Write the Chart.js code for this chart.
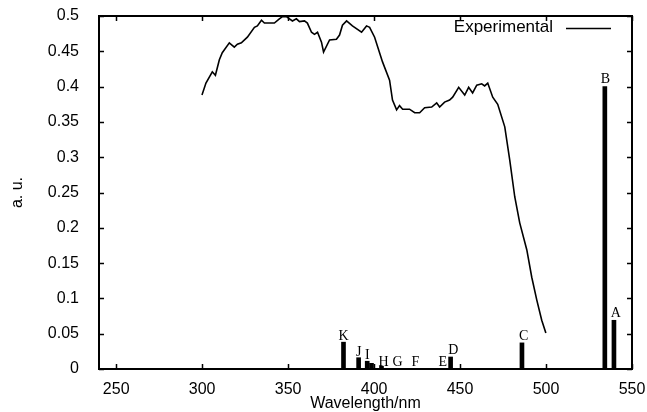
<!DOCTYPE html>
<html>
<head>
<meta charset="utf-8">
<script src="https://cdn.jsdelivr.net/npm/chart.js@4"></script>
<style>
  html, body { margin: 0; padding: 0; background: #fff; }
  #wrap { width: 647px; height: 412px; }
</style>
</head>
<body>
<div id="wrap"><canvas id="spectrum"></canvas></div>
<script>
// Experimental curve (wavelength nm, a.u.)
const expWavelength = [299.9, 302.2, 305.9, 307.7, 310.0, 311.7, 315.8, 318.7, 320.5, 322.8, 326.3, 330.4, 332.1, 334.5, 336.2, 339.1, 342.0, 344.9, 346.7, 349.0, 350.8, 352.5, 354.8, 356.6, 359.5, 361.2, 363.6, 365.3, 367.1, 369.4, 370.6, 374.1, 378.1, 379.9, 381.6, 384.0, 387.4, 392.7, 395.6, 397.4, 400.3, 404.9, 409.0, 410.7, 413.1, 414.8, 416.6, 420.6, 423.6, 426.5, 429.4, 433.5, 436.4, 438.1, 441.0, 443.9, 445.7, 449.2, 452.7, 455.0, 457.3, 459.7, 462.6, 464.3, 466.1, 469.0, 471.9, 476.0, 478.9, 481.8, 484.7, 488.8, 491.7, 494.6, 497.5, 499.9];
const expValues = [0.388, 0.405, 0.421, 0.416, 0.438, 0.448, 0.462, 0.456, 0.460, 0.462, 0.470, 0.484, 0.486, 0.494, 0.490, 0.490, 0.490, 0.496, 0.499, 0.499, 0.496, 0.493, 0.496, 0.492, 0.493, 0.490, 0.477, 0.474, 0.477, 0.463, 0.449, 0.466, 0.467, 0.473, 0.487, 0.493, 0.486, 0.477, 0.486, 0.484, 0.470, 0.435, 0.409, 0.381, 0.367, 0.373, 0.368, 0.368, 0.363, 0.363, 0.370, 0.371, 0.377, 0.371, 0.378, 0.381, 0.385, 0.399, 0.388, 0.399, 0.391, 0.402, 0.404, 0.401, 0.405, 0.385, 0.375, 0.343, 0.296, 0.244, 0.207, 0.169, 0.130, 0.098, 0.069, 0.051];

// Calculated transitions (sticks)
const stickWavelength = [382.2, 391.0, 396.0, 398.5, 404.3, 444.5, 486.0, 534.2, 539.5];
const stickValues = [0.038, 0.016, 0.011, 0.008, 0.004, 0.017, 0.037, 0.400, 0.069];

// Letter labels for the transitions
const stickLetters = ['K', 'J', 'I', 'H', 'G', 'F', 'E', 'D', 'C', 'B', 'A'];
const letterWavelength = [382.2, 391.0, 396.0, 405.5, 413.6, 424.0, 440.0, 446.0, 487.0, 534.6, 540.6];
const letterValues = [0.041, 0.019, 0.014, 0.004, 0.004, 0.004, 0.004, 0.021, 0.041, 0.405, 0.073];

const xTicks = [250, 300, 350, 400, 450, 500, 550];
const yTicks = [0, 0.05, 0.1, 0.15, 0.2, 0.25, 0.3, 0.35, 0.4, 0.45, 0.5];

const SANS = '"Liberation Sans", Arial, sans-serif';
const SERIF = '"Liberation Serif", "Times New Roman", serif';

// box frame, inward ticks, letters and legend
const framePlugin = {
    id: 'frame',
    afterDraw(chart) {
        const ctx = chart.ctx;
        const a = chart.chartArea;
        const xs = chart.scales.x, ys = chart.scales.y;
        const tl = 5;
        ctx.save();
        ctx.strokeStyle = '#000';
        ctx.lineWidth = 1.5;
        ctx.beginPath();
        xTicks.forEach(v => {
            const px = Math.round(xs.getPixelForValue(v)) + 0.5;
            ctx.moveTo(px, a.bottom); ctx.lineTo(px, a.bottom - tl);
            ctx.moveTo(px, a.top); ctx.lineTo(px, a.top + tl);
        });
        yTicks.forEach(v => {
            const py = Math.round(ys.getPixelForValue(v)) + 0.5;
            ctx.moveTo(a.left, py); ctx.lineTo(a.left + tl, py);
            ctx.moveTo(a.right, py); ctx.lineTo(a.right - tl, py);
        });
        ctx.stroke();
        ctx.lineWidth = 2;
        ctx.strokeRect(a.left, a.top, a.right - a.left, a.bottom - a.top);

        // transition letters
        ctx.fillStyle = '#000';
        ctx.font = '14px ' + SERIF;
        ctx.textAlign = 'center';
        ctx.textBaseline = 'alphabetic';
        stickLetters.forEach((s, i) => {
            ctx.fillText(s, xs.getPixelForValue(letterWavelength[i]), ys.getPixelForValue(letterValues[i]));
        });

        // legend
        const ds = chart.data.datasets[0];
        ctx.font = '17px ' + SANS;
        ctx.textAlign = 'right';
        ctx.textBaseline = 'middle';
        ctx.fillText(ds.label, 553, 27);
        ctx.lineWidth = 1.3;
        ctx.beginPath();
        ctx.moveTo(566, 28.5); ctx.lineTo(611, 28.5);
        ctx.stroke();
        ctx.restore();
    }
};

let spectrumChart;

document.addEventListener('DOMContentLoaded', () => {
    const ctx = document.getElementById('spectrum').getContext('2d');

    spectrumChart = new Chart(ctx, {
        type: 'scatter',
        data: {
            datasets: [{
                type: 'line',
                label: 'Experimental',
                data: expWavelength.map((x, i) => ({ x, y: expValues[i] })),
                borderColor: '#000',
                borderWidth: 1.6,
                pointRadius: 0,
                tension: 0,
                fill: false
            }, {
                type: 'bar',
                label: 'Calculated',
                data: stickWavelength.map((x, i) => ({ x, y: stickValues[i] })),
                backgroundColor: '#000',
                barThickness: 4,
                borderWidth: 0
            }]
        },
        options: {
            responsive: true,
            maintainAspectRatio: false,
            animation: false,
            layout: { padding: { top: 16, right: 15, left: 0, bottom: 0 } },
            plugins: {
                legend: { display: false },
                tooltip: { enabled: false }
            },
            scales: {
                x: {
                    type: 'linear',
                    min: 240,
                    max: 550,
                    offset: false,
                    afterBuildTicks: s => { s.ticks = xTicks.map(v => ({ value: v })); },
                    afterFit: s => { s.height = 43; s.paddingLeft = 0; s.paddingRight = 0; },
                    grid: { display: false },
                    border: { display: false },
                    ticks: {
                        color: '#000',
                        font: { family: SANS, size: 16 },
                        padding: 3,
                        maxRotation: 0,
                        autoSkip: false
                    },
                    title: {
                        display: true,
                        text: 'Wavelength/nm',
                        color: '#000',
                        font: { family: SANS, size: 16 },
                        padding: { top: 0, bottom: -1 }
                    }
                },
                y: {
                    min: 0,
                    max: 0.5,
                    afterBuildTicks: s => { s.ticks = yTicks.map(v => ({ value: v })); },
                    afterFit: s => { s.width = 99; s.paddingTop = 0; s.paddingBottom = 0; },
                    grid: { display: false },
                    border: { display: false },
                    ticks: {
                        color: '#000',
                        font: { family: SANS, size: 16 },
                        padding: 12,
                        callback: v => String(+v.toFixed(2))
                    },
                    title: {
                        display: true,
                        text: 'a. u.',
                        color: '#000',
                        font: { family: SANS, size: 16 },
                        padding: { top: 8, bottom: 0 }
                    }
                }
            }
        },
        plugins: [framePlugin]
    });
});
</script>
</body>
</html>
